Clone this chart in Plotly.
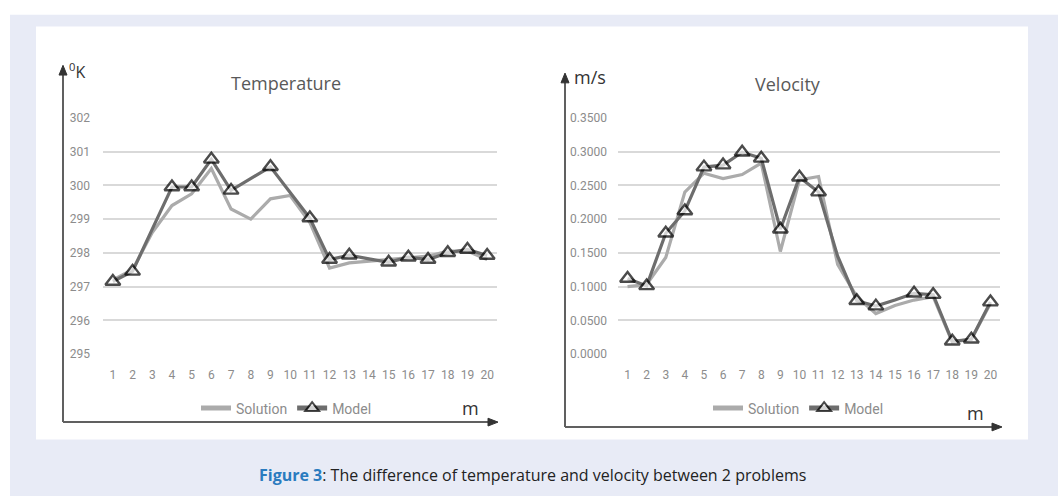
import plotly.graph_objects as go

W, H = 1058, 503

points = list(range(1, 21))
point_labels = [str(p) for p in points]

temp_solution = [297.2, 297.5, 298.6, 299.4, 299.75, 300.5, 299.3, 299.0, 299.6, 299.7,
                 298.9, 297.55, 297.7, 297.75, 297.8, 297.85, 297.9, 298.05, 298.05, 297.8]
temp_model = [297.15, 297.45, 298.7, 299.95, 299.95, 300.77, 299.85, 300.2, 300.55, 299.79,
              299.03, 297.8, 297.93, 297.82, 297.72, 297.87, 297.8, 298.0, 298.1, 297.92]
temp_marker_shown = [1, 1, 0, 1, 1, 1, 1, 0, 1, 0, 1, 1, 1, 0, 1, 1, 1, 1, 1, 1]

vel_solution = [0.100, 0.103, 0.143, 0.240, 0.268, 0.260, 0.266, 0.283, 0.152, 0.258,
                0.263, 0.133, 0.085, 0.060, 0.072, 0.080, 0.085, 0.018, 0.022, 0.075]
vel_model = [0.112, 0.101, 0.179, 0.212, 0.277, 0.280, 0.299, 0.290, 0.185, 0.262,
             0.240, 0.145, 0.079, 0.071, 0.080, 0.090, 0.088, 0.019, 0.022, 0.077]
vel_marker_shown = [1, 1, 1, 1, 1, 1, 1, 1, 1, 1, 1, 0, 1, 1, 0, 1, 1, 1, 1, 1]

temp_ticks = [295, 296, 297, 298, 299, 300, 301, 302]
vel_ticks = [0.0, 0.05, 0.10, 0.15, 0.20, 0.25, 0.30, 0.35]


def px(x):
    return x / W


def py(y):
    return 1 - y / H


SOL_COLOR = "#ababab"
MOD_COLOR = "#6d6d6d"
TICK_FONT = dict(family="Liberation Sans Narrow, Roboto, Arial", size=12, color="#8c8c8c")
MSIZE = 13

fig = go.Figure()

fig.add_trace(go.Scatter(x=points, y=temp_solution, mode="lines", name="Solution",
                         line=dict(color=SOL_COLOR, width=3.2), xaxis="x", yaxis="y",
                         legend="legend"))
fig.add_trace(go.Scatter(x=points, y=temp_model, mode="lines+markers", name="Model",
                         line=dict(color=MOD_COLOR, width=3.2),
                         marker=dict(symbol="triangle-up", color="white",
                                     size=[MSIZE * s for s in temp_marker_shown],
                                     line=dict(color="black", width=2.4)),
                         xaxis="x", yaxis="y", legend="legend"))
fig.add_trace(go.Scatter(x=points, y=vel_solution, mode="lines", name="Solution",
                         line=dict(color=SOL_COLOR, width=3.2), xaxis="x2", yaxis="y2",
                         legend="legend2"))
fig.add_trace(go.Scatter(x=points, y=vel_model, mode="lines+markers", name="Model",
                         line=dict(color=MOD_COLOR, width=3.2),
                         marker=dict(symbol="triangle-up", color="white",
                                     size=[MSIZE * s for s in vel_marker_shown],
                                     line=dict(color="black", width=2.4)),
                         xaxis="x2", yaxis="y2", legend="legend2"))

xcommon = dict(range=[0.5, 20.5], tickmode="array", tickvals=points, ticktext=point_labels,
               showgrid=False, zeroline=False, showline=False, ticks="",
               tickfont=TICK_FONT, ticklabelstandoff=12, fixedrange=True)
ycommon = dict(showgrid=True, gridcolor="#d9d9d9", gridwidth=1.5, zeroline=False,
               showline=False, ticks="", tickfont=TICK_FONT, fixedrange=True)

shapes = [
    dict(type="rect", xref="paper", yref="paper", x0=px(10), x1=1, y0=0, y1=py(8),
         fillcolor="#e8ebf6", line=dict(width=0), layer="below"),
    dict(type="rect", xref="paper", yref="paper", x0=px(36), x1=px(1028), y0=py(445), y1=py(20),
         fillcolor="white", line=dict(width=0), layer="below"),
]

AX = "#606060"
# axis arrows (decoration)
arrows = [
    ((63, 427), (63, 68), "up"),
    ((63, 427), (490, 427), "right"),
    ((565, 432), (565, 76), "up"),
    ((565, 432), (994, 432), "right"),
]
for (x0, y0), (x1, y1), d in arrows:
    shapes.append(dict(type="line", xref="paper", yref="paper", x0=px(x0), y0=py(y0),
                       x1=px(x1), y1=py(y1), line=dict(color=AX, width=2)))
    if d == "up":
        tip = (x1, y1 - 8)
        path = f"M {px(tip[0])} {py(tip[1])} L {px(x1 - 4)} {py(y1 + 2)} L {px(x1 + 4)} {py(y1 + 2)} Z"
    else:
        tip = (x1 + 8, y1)
        path = f"M {px(tip[0])} {py(tip[1])} L {px(x1 - 2)} {py(y1 - 4)} L {px(x1 - 2)} {py(y1 + 4)} Z"
    shapes.append(dict(type="path", xref="paper", yref="paper", path=path,
                       fillcolor="#333333", line=dict(color="#333333", width=1)))

annotations = [
    dict(text="Temperature", x=px(286), y=py(78), xref="paper", yref="paper", showarrow=False,
         font=dict(family="Open Sans, Arial", size=18, color="#595959"), xanchor="center", yanchor="middle"),
    dict(text="Velocity", x=px(788), y=py(79), xref="paper", yref="paper", showarrow=False,
         font=dict(family="Open Sans, Arial", size=18, color="#595959"), xanchor="center", yanchor="middle"),
    dict(text="<sup>0</sup>K", x=px(67), y=py(66), xref="paper", yref="paper", showarrow=False,
         font=dict(family="Open Sans, Arial", size=16, color="#333333"), xanchor="left", yanchor="middle"),
    dict(text="m/s", x=px(572), y=py(72), xref="paper", yref="paper", showarrow=False,
         font=dict(family="Open Sans, Arial", size=18, color="#333333"), xanchor="left", yanchor="middle"),
    dict(text="m", x=px(470), y=py(412), xref="paper", yref="paper", showarrow=False,
         font=dict(family="Open Sans, Arial", size=18, color="#333333"), xanchor="center", yanchor="middle"),
    dict(text="m", x=px(975), y=py(418), xref="paper", yref="paper", showarrow=False,
         font=dict(family="Open Sans, Arial", size=18, color="#333333"), xanchor="center", yanchor="middle"),
    dict(text="<b><span style='color:#2a7bbf'>Figure 3</span></b>: The difference of temperature and velocity between 2 problems",
         x=px(532), y=py(481), xref="paper", yref="paper", showarrow=False,
         font=dict(family="Open Sans, Noto Sans, Arial", size=16, color="#222222"),
         xanchor="center", yanchor="middle"),
]

legend_common = dict(orientation="h", xanchor="left", yanchor="middle",
                     bgcolor="rgba(0,0,0,0)", font=dict(family="Liberation Sans Narrow, Roboto, Arial", size=14, color="#8c8c8c"),
                     itemsizing="constant", tracegroupgap=0, itemwidth=30)

fig.update_layout(
    width=W, height=H, margin=dict(l=0, r=0, t=0, b=0),
    paper_bgcolor="white", plot_bgcolor="rgba(0,0,0,0)",
    xaxis=dict(domain=[px(103), px(497)], anchor="y", **xcommon),
    yaxis=dict(domain=[py(357), py(114)], anchor="x", range=[295, 302],
               tickvals=temp_ticks, ticklabelstandoff=12, **ycommon),
    xaxis2=dict(domain=[px(618), px(1000)], anchor="y2", **xcommon),
    yaxis2=dict(domain=[py(357), py(114)], anchor="x2", range=[0, 0.35],
                tickvals=vel_ticks, tickformat=".4f", ticklabelstandoff=10, **ycommon),
    shapes=shapes, annotations=annotations,
    legend=dict(x=px(196), y=py(413), **legend_common),
    legend2=dict(x=px(708), y=py(413), **legend_common),
    showlegend=True,
)

fig.write_html("out.html", config={"displayModeBar": False},
               post_script="document.body.style.margin='0';document.body.style.overflow='hidden';")
